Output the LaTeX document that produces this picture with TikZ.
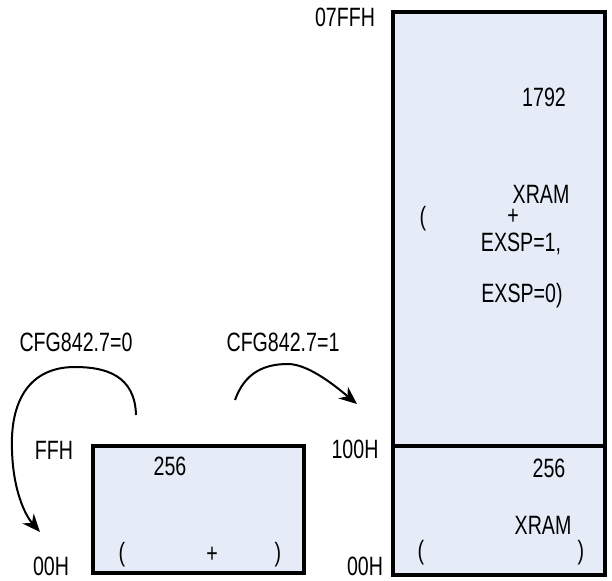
\documentclass[tikz,border=0pt]{standalone}
\usepackage{fontspec}
\setmainfont[FakeStretch=0.74]{Liberation Sans}
\usetikzlibrary{arrows.meta}
\definecolor{memfill}{RGB}{230,236,247}

\begin{document}
\begin{tikzpicture}[x=1pt, y=-1pt, >={Stealth[length=18pt,width=15pt]},
    lbl/.style={inner sep=0pt, font=\fontsize{26.5}{29}\selectfont},
    membox/.style={draw=black, line width=3.6pt, fill=memfill},
    jump/.style={->, line width=2pt}]
    \useasboundingbox (0,0) rectangle (612,580);

    % memory blocks
    \draw[membox] (93,446) rectangle (304,573);
    \draw[membox] (393,12) rectangle (605,575);
    \draw[line width=3.6pt] (393,446) -- (605,446);

    % address labels
    \node[lbl] (a07ff) at (345,17) {07FFH};
    \node[lbl] (a100) at (355,449) {100H};
    \node[lbl] (a00r) at (365,566) {00H};
    \node[lbl] (aff) at (54,450) {FFH};
    \node[lbl] (a00l) at (51,566) {00H};

    % small block texts
    \node[lbl] (s256) at (170,466) {256};
    \node[lbl] (sl) at (122,555) {(};
    \node[lbl] (splus) at (212,555) {+};
    \node[lbl] (sr) at (278,555) {)};

    % big block texts
    \node[lbl] (b1792) at (544,97) {1792};
    \node[lbl] (bxram) at (541,194) {XRAM};
    \node[lbl] (bl) at (423,219) {(};
    \node[lbl] (bplus) at (513,217) {+};
    \node[lbl] (bexa) at (521,244) {EXSP=1,};
    \node[lbl] (bexb) at (522,296) {EXSP=0)};
    \node[lbl] (l256) at (549,468) {256};
    \node[lbl] (lxram) at (543,525) {XRAM};
    \node[lbl] (ll) at (421,553) {(};
    \node[lbl] (lr) at (581,553) {)};

    % mode arrows
    \node[lbl] (cfg0) at (76,342) {CFG842.7=0};
    \node[lbl] (cfg1) at (283,342) {CFG842.7=1};
    \coordinate (p0) at (136,415);
    \coordinate (q0) at (40,532);
    \coordinate (p1) at (235,400);
    \coordinate (q1) at (357,404);
    \draw[jump] (p0) .. controls (135,375) and (105,367) .. (75,367)
        .. controls (30,367) and (10,400) .. (12,450)
        .. controls (13,490) and (25,515) .. (q0);
    \draw[jump] (p1) .. controls (245,372) and (265,364) .. (288,364)
        .. controls (310,364) and (340,390) .. (q1);
\end{tikzpicture}
\end{document}
